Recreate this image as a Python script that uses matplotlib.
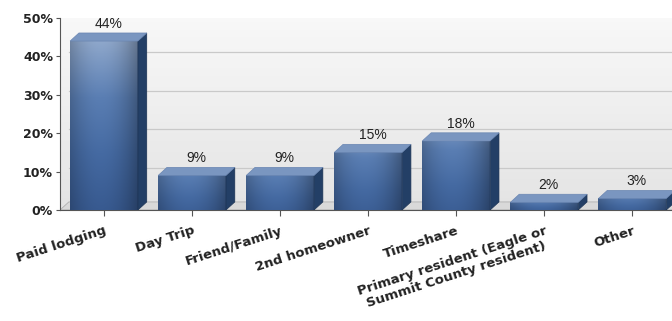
import numpy as np
import matplotlib.pyplot as plt
from matplotlib.patches import Polygon, Rectangle
from matplotlib.colors import LinearSegmentedColormap

categories = ['Paid lodging', 'Day Trip', 'Friend/Family', '2nd homeowner', 'Timeshare',
              'Primary resident (Eagle or\nSummit County resident)', 'Other']
values = [44, 9, 9, 15, 18, 2, 3]
yticks = [0, 10, 20, 30, 40, 50]

plt.rcParams['font.family'] = ['Liberation Sans', 'DejaVu Sans']

fig = plt.figure(figsize=(6.72, 3.21), dpi=100)
ax = fig.add_axes([60 / 672, 111 / 321, 1 - 60 / 672, 192 / 321])

x = np.arange(len(categories))
w = 0.77
dx, dy = 0.10, 2.1  # fake 3d depth

# plot area background
bg = np.linspace(0, 1, 50).reshape(-1, 1)
ax.imshow(bg, extent=[-0.5, 6.45, 0, 50], aspect='auto', origin='lower',
          cmap=LinearSegmentedColormap.from_list('bg', ['#e4e4e4', '#f8f8f8']), zorder=0)
for t in yticks[1:]:
    ax.plot([-0.5 + dx, 6.45], [t + dy * 0.5, t + dy * 0.5], color='#c9c9c9', lw=0.9, zorder=1)

# floor
ax.add_patch(Polygon([[-0.5, 0], [6.45, 0], [6.45 + dx, dy], [-0.5 + dx, dy]],
                     facecolor='#d9d9d9', edgecolor='#b0b0b0', lw=0.6, zorder=1))

cmap = LinearSegmentedColormap.from_list('bar', ['#385a90', '#456aa2', '#5a7eb3', '#8ea7cb'])
xs = np.linspace(0, 1, 60)
shade = 1 - 0.25 * (np.abs(xs - 0.45) * 2) ** 2
for xi, v in zip(x, values):
    x0, x1 = xi - w / 2, xi + w / 2
    grad = np.linspace(0.0, 1.0, 100).reshape(-1, 1) * (0.4 + 0.6 * v / 44) + (0.6 - 0.6 * v / 44) * 0.3
    rgb = cmap(grad)[:, :, :3] * shade.reshape(1, -1, 1) * np.ones((1, 60, 1))
    im = ax.imshow(rgb, extent=[x0, x1, 0, v], aspect='auto', origin='lower', zorder=3)
    clip = Rectangle((x0, 0), w, v, transform=ax.transData, facecolor='none', edgecolor='none')
    ax.add_patch(clip)
    im.set_clip_path(clip)
    ax.add_patch(Polygon([[x1, 0], [x1 + dx, dy], [x1 + dx, v + dy], [x1, v]],
                         facecolor='#233f66', edgecolor='#1c3354', lw=0.5, zorder=3))
    ax.add_patch(Polygon([[x0, v], [x1, v], [x1 + dx, v + dy], [x0 + dx, v + dy]],
                         facecolor='#7a96c0', edgecolor='#6a86b2', lw=0.5, zorder=3))
    ax.text(xi + dx / 2, v + dy + 0.5, f'{v}%', ha='center', va='bottom', fontsize=10,
            color='#222222', zorder=4)

ax.set_xlim(-0.5, 6.45)
ax.set_ylim(0, 50)
ax.set_yticks(yticks)
ax.set_yticklabels([f'{t}%' for t in yticks], fontsize=9, fontweight='bold', color='#222222',
                   family='DejaVu Sans')
ax.set_xticks(x)
ax.set_xticklabels(categories, rotation=18, ha='right', rotation_mode='anchor',
                   fontsize=9.5, fontweight='bold', color='#222222', multialignment='center',
                   family='DejaVu Sans')
ax.tick_params(axis='x', length=4, color='#555555', pad=6)
ax.tick_params(axis='y', length=3, color='#555555', pad=2)
for s in ['top', 'right']:
    ax.spines[s].set_visible(False)
ax.spines['left'].set_color('#555555')
ax.spines['bottom'].set_color('#555555')

fig.savefig('out.png', dpi=100)
